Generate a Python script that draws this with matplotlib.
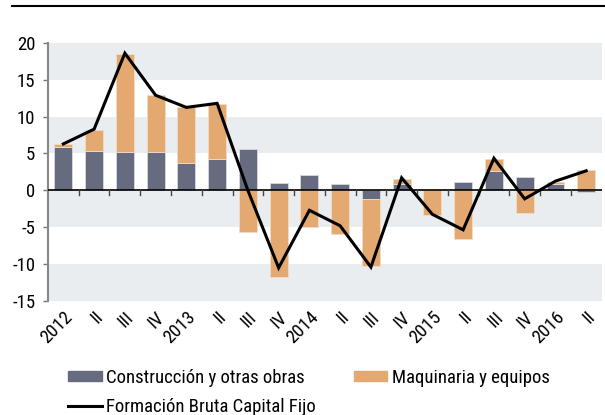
import numpy as np
import matplotlib
matplotlib.use("Agg")
import matplotlib.pyplot as plt
from matplotlib.lines import Line2D
from matplotlib.patches import Patch

plt.rcParams['font.family'] = ['Roboto Condensed', 'DejaVu Sans']

quarters = ['2012', 'II', 'III', 'IV', '2013', 'II', 'III', 'IV', '2014', 'II',
            'III', 'IV', '2015', 'II', 'III', 'IV', '2016', 'II']
construccion = [5.85, 5.4, 5.15, 5.15, 3.75, 4.2, 5.65, 0.95, 2.1, 0.9,
                -1.15, 0.85, 0.0, 1.2, 2.6, 1.85, 0.8, -0.2]
maquinaria = [0.5, 2.8, 13.4, 7.75, 7.5, 7.55, -5.6, -11.7, -4.9, -5.85,
              -9.15, 0.75, -3.35, -6.6, 1.6, -3.1, 0.35, 2.8]
fbcf = [6.3, 8.3, 18.6, 12.9, 11.25, 11.8, 0.0, -10.5, -2.7, -4.8,
        -10.4, 1.7, -3.25, -5.35, 4.35, -1.15, 1.25, 2.65]

c_con = '#666b80'
c_maq = '#e4a970'
band = '#eaedf0'

x = np.arange(len(quarters))
con = np.array(construccion)
maq = np.array(maquinaria)

fig = plt.figure(figsize=(6.05, 4.15), dpi=100)
ax = fig.add_axes([0.0793, 0.2747, 0.915, 0.622])

# alternating background bands
for lo in [-15, -5, 5, 15]:
    ax.axhspan(lo, lo + 5, color=band, zorder=0, lw=0)

w = 0.58
ax.bar(x, con, w, color=c_con, edgecolor='#d8dae0', linewidth=0.6, zorder=2)
# stack machinery on construction when same sign, else from zero
base = np.where(np.sign(maq) == np.sign(con), con, 0)
ax.bar(x, maq, w, bottom=base, color=c_maq, edgecolor='#f3dcc4', linewidth=0.6, zorder=2)

ax.plot(x, fbcf, color='black', lw=2.2, zorder=4, solid_joinstyle='miter')

ax.axhline(0, color='black', lw=1.2, zorder=3)
# small ticks on the zero line between quarters
for b in x[:-1] + 0.5:
    ax.plot([b, b], [0, -0.65], color='#444444', lw=1, zorder=3, clip_on=False)

ax.set_xlim(-0.5, len(quarters) - 0.5)
ax.set_ylim(-15, 20)
ax.set_yticks(np.arange(-15, 21, 5))
ax.set_yticklabels([str(v) for v in range(-15, 21, 5)], fontsize=13.5)
ax.tick_params(axis='y', length=3.6, width=1, color='#777777', pad=5.5)

ax.set_xticks(x)
ax.set_xticklabels(quarters, rotation=45, ha='right', va='top',
                   rotation_mode='anchor', fontsize=13.5)
ax.tick_params(axis='x', length=0, pad=5)

for s in ['top', 'right', 'bottom']:
    ax.spines[s].set_visible(False)
ax.spines['left'].set_color('#888888')
ax.spines['left'].set_linewidth(1.5)

# top rule
fig.add_artist(Line2D([12 / 605, 1.0], [1 - 6 / 415, 1 - 6 / 415], color='black', lw=1.5))

handles = [Patch(color=c_con), Patch(color=c_maq),
           Line2D([], [], color='black', lw=2.2)]
labels = ['Construcción y otras obras', 'Maquinaria y equipos',
          'Formación Bruta Capital Fijo']
fig.legend(handles[:2], labels[:2], loc='center left', bbox_to_anchor=(0.112, 0.089),
           ncol=2, frameon=False, fontsize=13.5, handlelength=1.8, handleheight=0.45,
           handletextpad=0.25, columnspacing=2.6, borderaxespad=0, borderpad=0)
fig.legend(handles[2:], labels[2:], loc='center left', bbox_to_anchor=(0.112, 0.019),
           frameon=False, fontsize=13.5, handlelength=1.8, handletextpad=0.25,
           borderaxespad=0, borderpad=0)

fig.savefig('out.png', dpi=100)
